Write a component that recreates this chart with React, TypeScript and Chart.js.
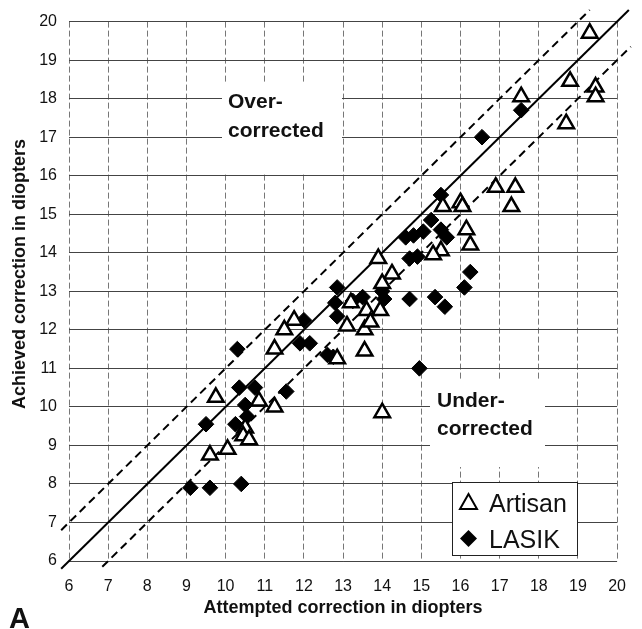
import React, { useEffect, useRef } from 'react';
import { Chart, registerables } from 'chart.js';

Chart.register(...registerables);

// Artisan (open triangles)
const artisanX = [19.3, 18.8, 19.45, 19.45, 17.55, 18.7, 16.9, 17.4, 17.3, 16.0, 16.05, 15.55, 16.15, 16.25, 15.5, 15.3, 13.9, 14.25, 14.0, 13.95, 13.6, 13.2, 13.1, 13.55, 13.55, 11.75, 11.5, 11.25, 12.85, 9.75, 10.85, 11.25, 10.5, 10.45, 10.6, 10.05, 9.6, 14.0, 13.7];
const artisanY = [19.7, 18.45, 18.3, 18.05, 18.05, 17.35, 15.7, 15.7, 15.2, 15.3, 15.2, 15.2, 14.6, 14.2, 14.05, 13.95, 13.85, 13.45, 13.2, 12.5, 12.5, 12.7, 12.1, 12.0, 11.45, 12.25, 12.0, 11.5, 11.25, 10.25, 10.15, 10.0, 9.45, 9.25, 9.15, 8.9, 8.75, 9.85, 12.2];

// LASIK (filled diamonds)
const lasikX = [17.55, 16.55, 15.5, 15.25, 15.5, 15.65, 14.6, 14.8, 15.05, 14.7, 14.9, 16.25, 16.1, 15.35, 15.6, 14.7, 14.0, 14.05, 14.95, 12.85, 12.8, 13.25, 13.5, 12.85, 12.0, 11.9, 12.15, 12.6, 12.75, 10.3, 10.35, 10.75, 11.55, 10.5, 10.55, 10.25, 9.5, 9.1, 9.6, 10.4];
const lasikY = [17.7, 17.0, 15.5, 14.85, 14.6, 14.4, 14.4, 14.45, 14.55, 13.85, 13.9, 13.5, 13.1, 12.85, 12.6, 12.8, 13.0, 12.8, 11.0, 13.1, 12.7, 12.75, 12.85, 12.35, 12.25, 11.65, 11.65, 11.35, 11.3, 11.5, 10.5, 10.5, 10.4, 10.05, 9.75, 9.55, 9.55, 7.9, 7.9, 8.0];

// Reference lines: perfect correction, and +/- 1 diopter
const axisMin = 6;
const axisMax = 20;
const identityX = [5.8, 20.3];
const upperX = [5.8, 19.3];
const lowerX = [6.85, 20.35];
const tolerance = 1;

const seriesLabels = ['Artisan', 'LASIK'];
const xTitle = 'Attempted correction in diopters';
const yTitle = 'Achieved correction in diopters';
const overText = ['Over-', 'corrected'];
const underText = ['Under-', 'corrected'];
const panelLabel = 'A';

const FONT = '"Liberation Sans", Arial, Helvetica, sans-serif';

const overlayPlugin = {
  id: 'overlayText',
  beforeDatasetsDraw(chart: any) {
    const ctx = chart.ctx;
    ctx.save();
    ctx.fillStyle = '#ffffff';
    ctx.fillRect(222, 83, 120, 90);
    ctx.fillRect(430, 380, 115, 87);
    ctx.fillStyle = '#111111';
    ctx.font = `bold 21px ${FONT}`;
    ctx.textAlign = 'left';
    ctx.textBaseline = 'alphabetic';
    ctx.fillText(overText[0], 228, 108);
    ctx.fillText(overText[1], 228, 137);
    ctx.fillText(underText[0], 437, 407);
    ctx.fillText(underText[1], 437, 435);
    ctx.restore();
  },
  afterDraw(chart: any) {
    const ctx = chart.ctx;
    const area = chart.chartArea;
    ctx.save();
    // legend box
    ctx.fillStyle = '#ffffff';
    ctx.fillRect(452, 482, 125, 73);
    ctx.strokeStyle = '#222222';
    ctx.lineWidth = 1;
    ctx.strokeRect(452.5, 482.5, 125, 73);
    // triangle marker
    ctx.beginPath();
    ctx.moveTo(468.5, 494);
    ctx.lineTo(477, 509);
    ctx.lineTo(460, 509);
    ctx.closePath();
    ctx.lineWidth = 2;
    ctx.strokeStyle = '#000';
    ctx.stroke();
    // diamond marker
    ctx.beginPath();
    ctx.moveTo(468.5, 530);
    ctx.lineTo(477, 538.5);
    ctx.lineTo(468.5, 547);
    ctx.lineTo(460, 538.5);
    ctx.closePath();
    ctx.fillStyle = '#000';
    ctx.fill();
    ctx.fillStyle = '#111';
    ctx.font = `25px ${FONT}`;
    ctx.textAlign = 'left';
    ctx.textBaseline = 'alphabetic';
    ctx.fillText(seriesLabels[0], 489, 512);
    ctx.fillText(seriesLabels[1], 489, 548);
    // axis titles
    ctx.font = `bold 18px ${FONT}`;
    ctx.textAlign = 'center';
    ctx.textBaseline = 'middle';
    ctx.fillText(xTitle, (area.left + area.right) / 2, 608);
    ctx.save();
    ctx.translate(20, 274);
    ctx.rotate(-Math.PI / 2);
    ctx.fillText(yTitle, 0, 0);
    ctx.restore();
    // panel label
    ctx.font = `bold 29px ${FONT}`;
    ctx.textAlign = 'left';
    ctx.textBaseline = 'alphabetic';
    ctx.fillText(panelLabel, 9, 628);
    ctx.restore();
  },
};

export default function App() {
  const canvasRef = useRef<HTMLCanvasElement | null>(null);

  useEffect(() => {
    const canvas = canvasRef.current;
    if (!canvas) return;
    const toPoints = (xs: number[], ys: number[]) => xs.map((x, i) => ({ x, y: ys[i] }));
    const lineDs = (xs: number[], offset: number, dash: number[]) => ({
      type: 'line' as const,
      data: xs.map((x) => ({ x, y: x + offset })),
      borderColor: '#000',
      borderWidth: 2,
      borderDash: dash,
      pointRadius: 0,
      showLine: true,
      fill: false,
      clip: false as any,
      tension: 0,
    });

    const chart = new Chart(canvas, {
      type: 'scatter',
      data: {
        datasets: [
          {
            label: seriesLabels[0],
            data: toPoints(artisanX, artisanY),
            pointStyle: 'triangle',
            pointRadius: 9,
            pointBackgroundColor: '#ffffff',
            pointBorderColor: '#000000',
            pointBorderWidth: 2.5,
          },
          {
            label: seriesLabels[1],
            data: toPoints(lasikX, lasikY),
            pointStyle: 'rectRot',
            pointRadius: 7.8,
            pointBackgroundColor: '#000000',
            pointBorderColor: '#000000',
            pointBorderWidth: 1,
          },
          lineDs(identityX, 0, []) as any,
          lineDs(upperX, tolerance, [8, 5]) as any,
          lineDs(lowerX, -tolerance, [8, 5]) as any,
        ],
      },
      options: {
        responsive: false,
        animation: false,
        events: [],
        layout: { padding: { top: 20, right: 22, left: 0, bottom: 0 } },
        plugins: {
          legend: { display: false },
          tooltip: { enabled: false },
          title: { display: false },
        },
        scales: {
          x: {
            type: 'linear',
            min: axisMin,
            max: axisMax,
            afterFit: (s: any) => {
              s.height = 68;
            },
            ticks: {
              stepSize: 1,
              padding: 16,
              color: '#111',
              font: { size: 16, family: FONT },
            },
            grid: { color: '#777', lineWidth: 1, drawTicks: false },
            border: { display: false, dash: [6, 3] },
          },
          y: {
            type: 'linear',
            min: axisMin,
            max: axisMax,
            afterFit: (s: any) => {
              s.width = 69;
            },
            ticks: {
              stepSize: 1,
              padding: 12,
              color: '#111',
              font: { size: 16, family: FONT },
            },
            grid: { color: '#444', lineWidth: 1, drawTicks: false },
            border: { display: false },
          },
        },
      },
      plugins: [overlayPlugin],
    } as any);

    return () => chart.destroy();
  }, []);

  return (
    <div style={{ position: 'absolute', left: 0, top: 0, width: 642, height: 629, background: '#fff' }}>
      <canvas ref={canvasRef} width={642} height={629} style={{ display: 'block' }} />
    </div>
  );
}
